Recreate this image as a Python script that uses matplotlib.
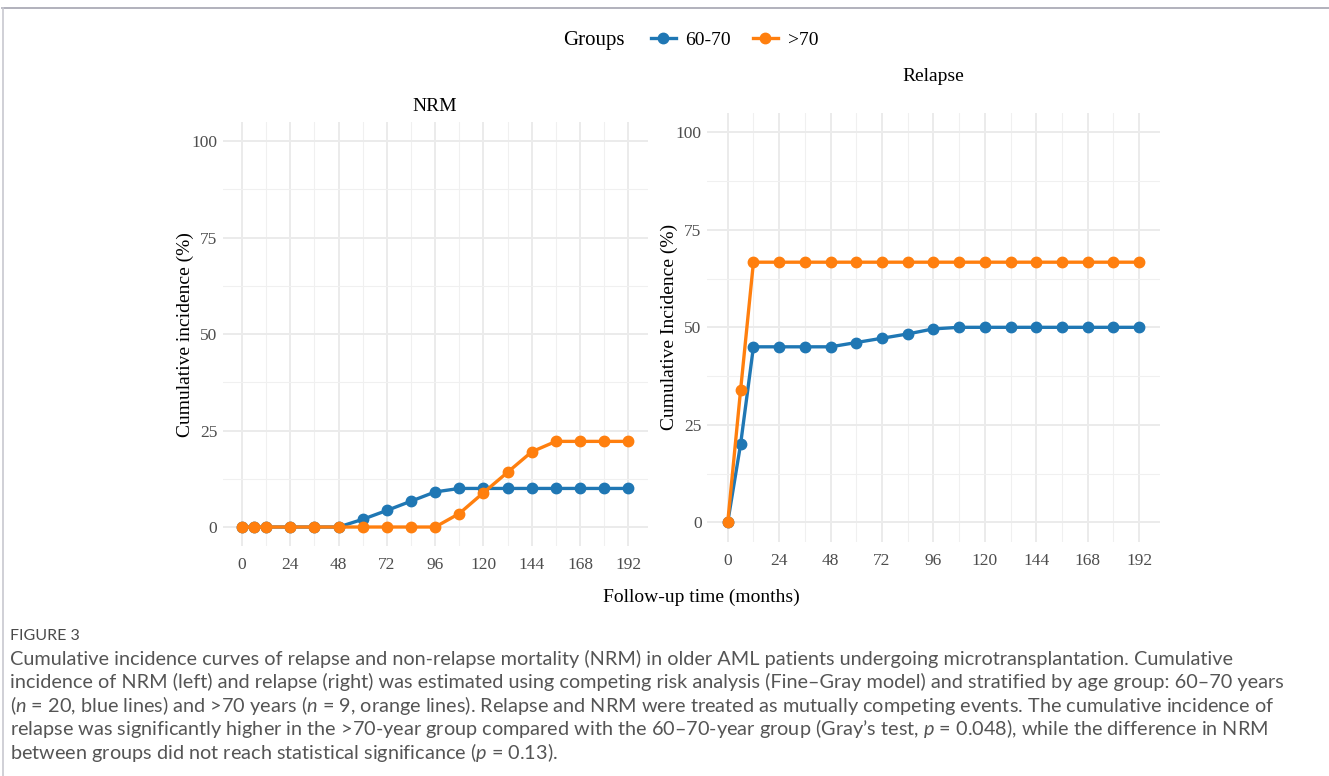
import numpy as np
import matplotlib.pyplot as plt
from matplotlib.lines import Line2D
from matplotlib.offsetbox import HPacker

# follow-up time points (months)
nrm_time = [0, 6, 12, 24, 36, 48, 60, 72, 84, 96, 108, 120, 132, 144, 156, 168, 180, 192]
nrm_6070 = [0, 0, 0, 0, 0, 0, 2.0, 4.3, 6.7, 9.1, 10, 10, 10, 10, 10, 10, 10, 10]
nrm_70 = [0, 0, 0, 0, 0, 0, 0, 0, 0, 0, 3.5, 8.9, 14.2, 19.5, 22.2, 22.2, 22.2, 22.2]

rel_time = [0, 6, 12, 24, 36, 48, 60, 72, 84, 96, 108, 120, 132, 144, 156, 168, 180, 192]
rel_6070 = [0, 20, 45, 45, 45, 45, 46.1, 47.2, 48.3, 49.6, 50, 50, 50, 50, 50, 50, 50, 50]
rel_70 = [0, 33.9, 66.7, 66.7, 66.7, 66.7, 66.7, 66.7, 66.7, 66.7, 66.7, 66.7, 66.7, 66.7, 66.7, 66.7, 66.7, 66.7]

groups = ['60-70', '>70']
colors = ['#1f77b4', '#ff7f0e']

caption_lines = [
    'Cumulative incidence curves of relapse and non-relapse mortality (NRM) in older AML patients undergoing microtransplantation. Cumulative',
    'incidence of NRM (left) and relapse (right) was estimated using competing risk analysis (Fine\u2013Gray model) and stratified by age group: 60\u201370 years',
    '($n$ = 20, blue lines) and >70 years ($n$ = 9, orange lines). Relapse and NRM were treated as mutually competing events. The cumulative incidence of',
    'relapse was significantly higher in the >70-year group compared with the 60\u201370-year group (Gray\u2019s test, $p$ = 0.048), while the difference in NRM',
    'between groups did not reach statistical significance ($p$ = 0.13).',
]

plt.rcParams['mathtext.fontset'] = 'custom'
plt.rcParams['mathtext.it'] = 'Lato:italic'
plt.rcParams['mathtext.rm'] = 'Lato'

serif = 'Liberation Serif'
fig = plt.figure(figsize=(13.29, 7.76), dpi=100)

ax1 = fig.add_axes([0.1676, 0.2960, 0.3197, 0.5468])
ax2 = fig.add_axes([0.5321, 0.3018, 0.3405, 0.5528])


def style(ax, title, ylabel, title_pad):
    ax.set_xlim(-9.6, 201.6)
    ax.set_ylim(-5, 105)
    ax.set_xticks(np.arange(0, 193, 24))
    ax.set_xticks(np.arange(0, 193, 12), minor=True)
    ax.set_yticks([0, 25, 50, 75, 100])
    ax.set_yticks([12.5, 37.5, 62.5, 87.5], minor=True)
    ax.grid(which='major', color='#ebebeb', linewidth=1.4)
    ax.grid(which='minor', color='#f0f0f0', linewidth=0.8)
    ax.set_axisbelow(True)
    for s in ax.spines.values():
        s.set_visible(False)
    ax.tick_params(which='both', length=0, labelsize=12.5, labelcolor='#4d4d4d')
    ax.tick_params(axis='x', pad=8)
    ax.tick_params(axis='y', pad=4)
    for lab in ax.get_xticklabels() + ax.get_yticklabels():
        lab.set_family(serif)
    ax.set_title(title, fontsize=14, family=serif, pad=title_pad)
    ax.set_ylabel(ylabel, fontsize=14, family=serif, labelpad=-2)


for ax, t, ys in [(ax1, nrm_time, [nrm_6070, nrm_70]), (ax2, rel_time, [rel_6070, rel_70])]:
    for y, c in zip(ys, colors):
        ax.plot(t, y, color=c, linewidth=2.4, marker='o', markersize=7.5)

style(ax1, 'NRM', 'Cumulative incidence (%)', 8)
style(ax2, 'Relapse', 'Cumulative Incidence (%)', 23)

fig.text(0.528, 1 - 597 / 776, 'Follow-up time (months)', ha='center', va='center',
         fontsize=14, family=serif)

handles = [Line2D([], [], color=c, linewidth=2.4, marker='o', markersize=7.5) for c in colors]
leg = fig.legend(handles, groups, loc='center', bbox_to_anchor=(0.5195, 1 - 40 / 776), ncol=2,
                 frameon=False, title='Groups', prop={'family': serif, 'size': 14},
                 title_fontproperties={'family': serif, 'size': 15}, handlelength=1.3,
                 columnspacing=1.1, handletextpad=0.5)
# put title on the same row as the entries
leg._legend_box._children = [HPacker(pad=0, sep=19, align='center',
                                     children=[leg._legend_title_box, leg._legend_handle_box])]

fig.text(10 / 1329, 1 - 636 / 776, 'FIGURE 3', ha='left', va='center', fontsize=11.5,
         family='Lato', color='#4a4a4a')
for i, line in enumerate(caption_lines):
    fig.text(10 / 1329, 1 - (659 + 23.3 * i) / 776, line, ha='left', va='center',
             fontsize=14.3, family='Lato', color='#555555')

# page frame
fig.add_artist(Line2D([2 / 1329, 1], [1 - 8 / 776, 1 - 8 / 776], color='#a4a4b0', linewidth=1.2))
fig.add_artist(Line2D([3 / 1329, 3 / 1329], [0, 1 - 8 / 776], color='#c8c8d0', linewidth=1.2))

fig.savefig('out.png', dpi=100)
